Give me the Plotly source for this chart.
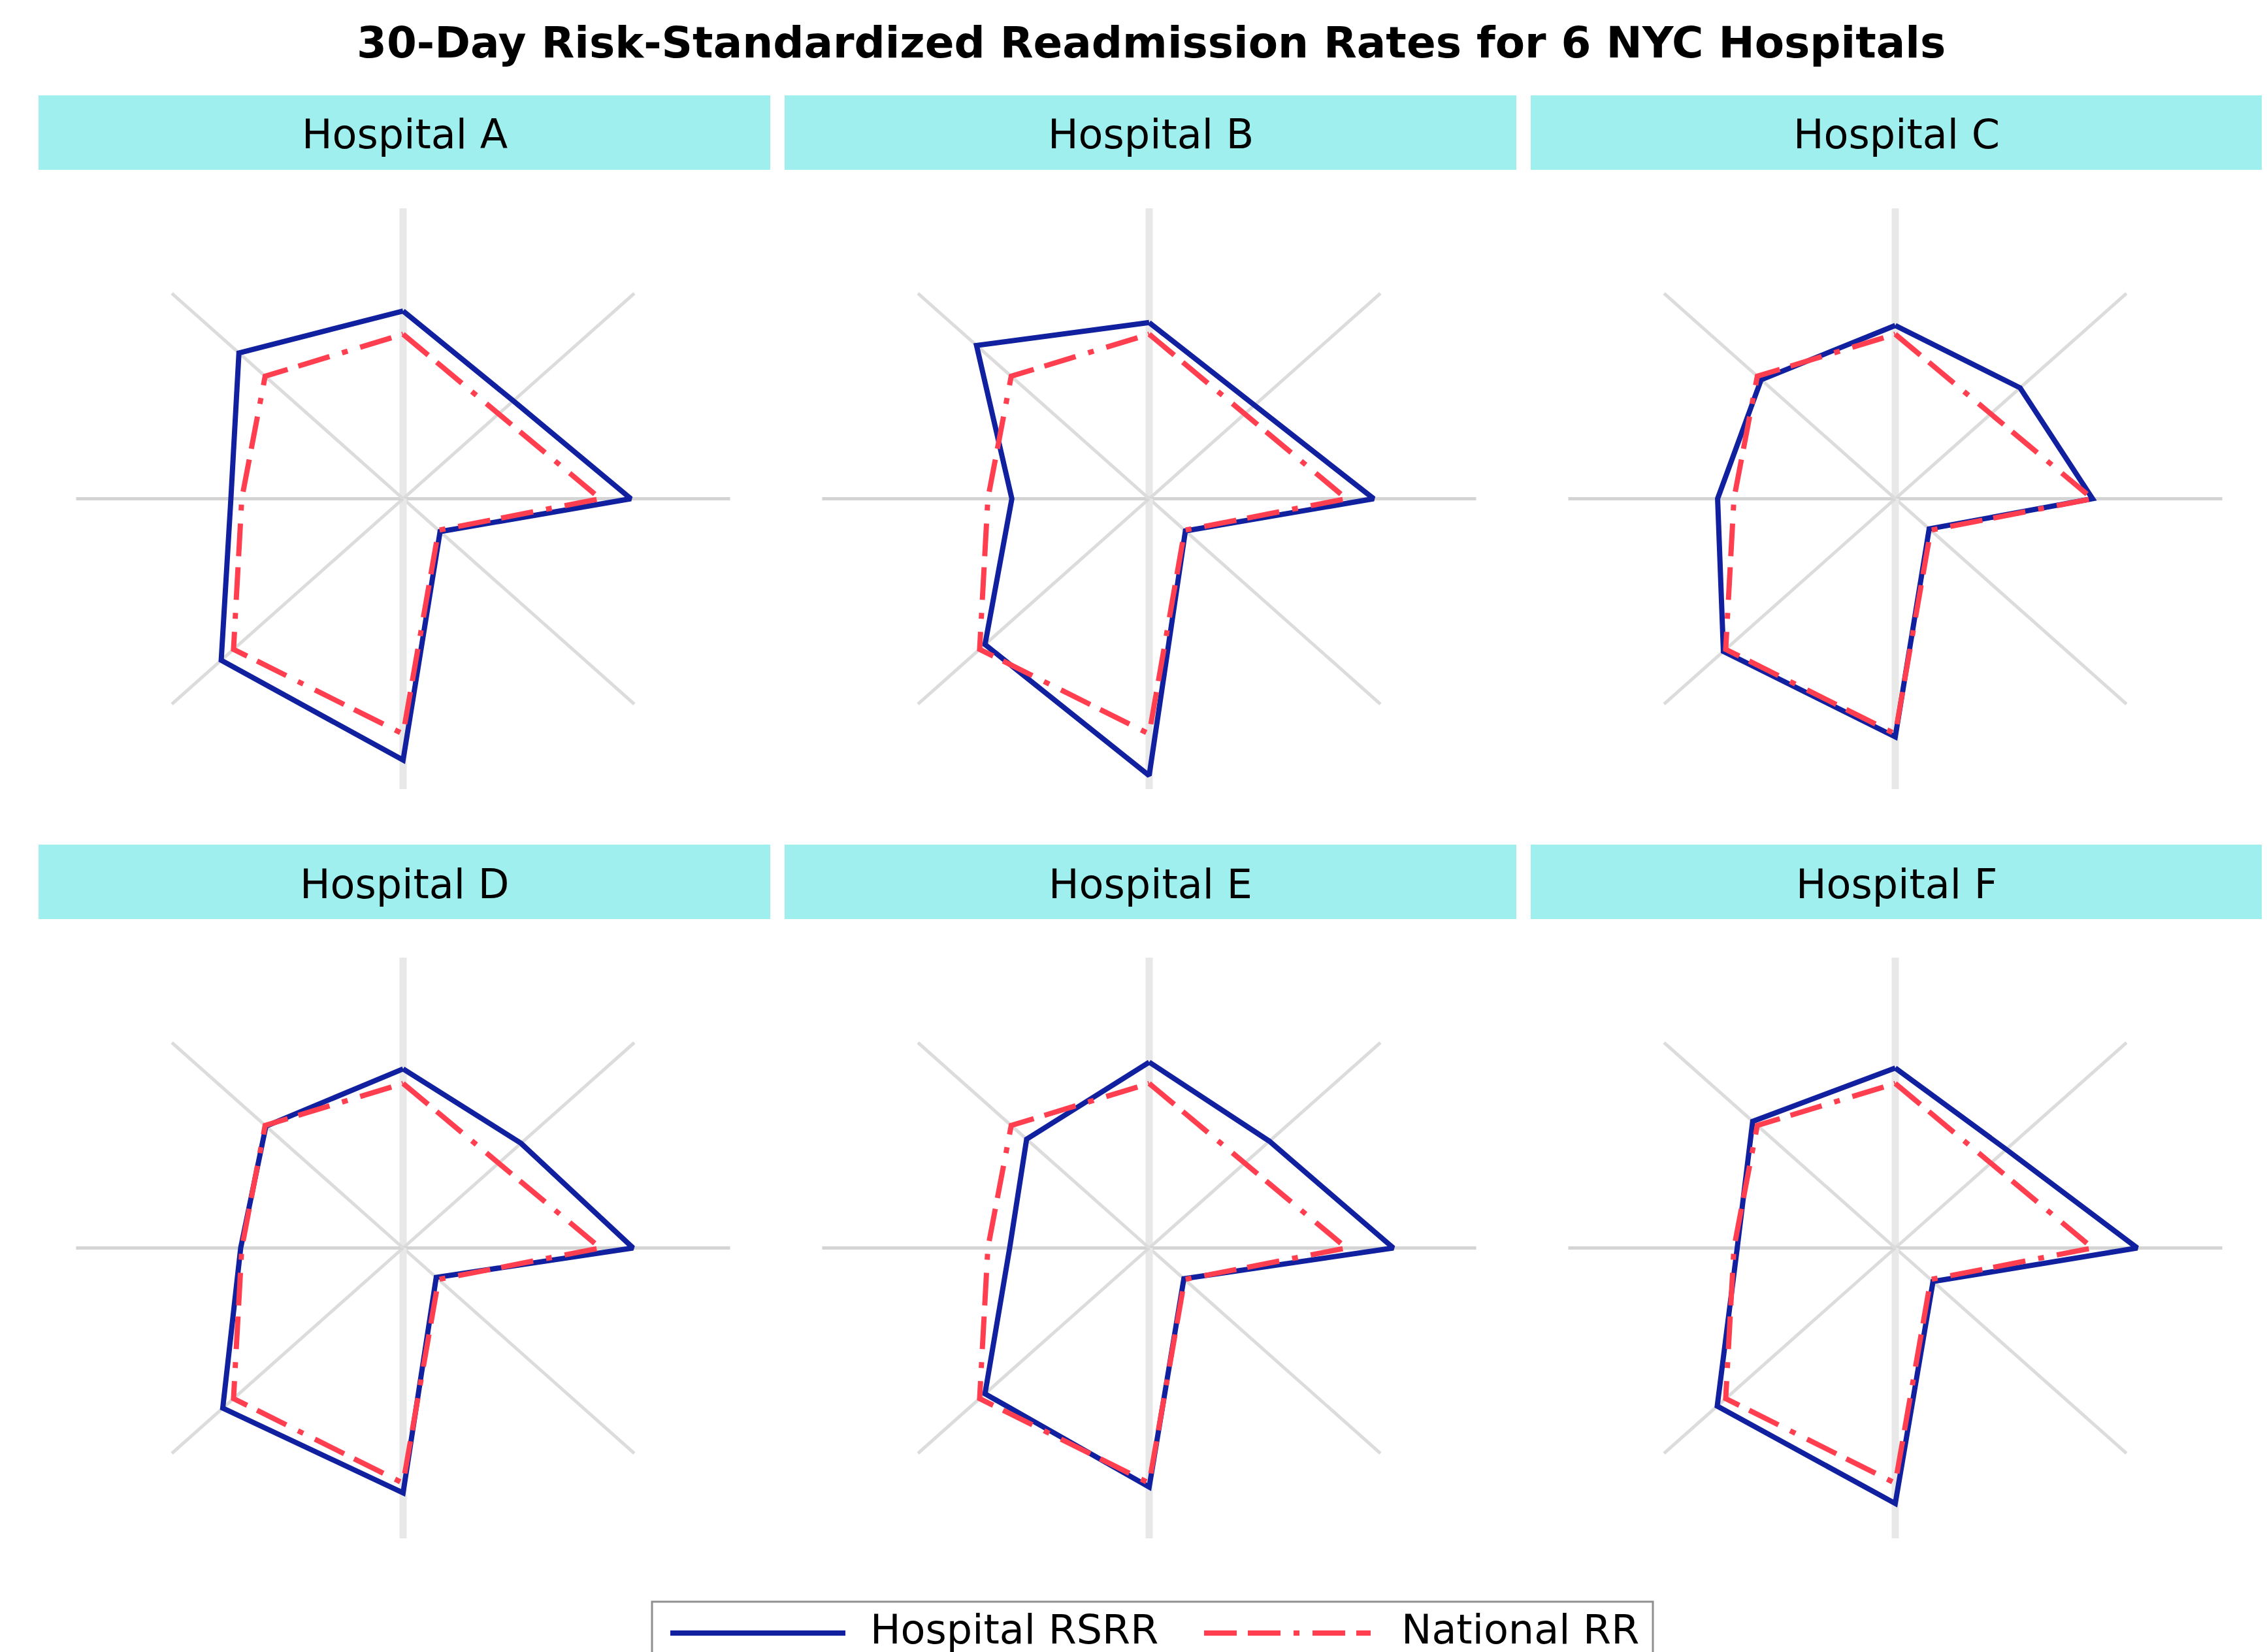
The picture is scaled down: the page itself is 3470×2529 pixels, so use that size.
import math
import plotly.graph_objects as go

# ---------------- data ----------------
spokes = ["N", "NE", "E", "SE", "S", "SW", "W", "NW"]
spoke_angles = [90, 45, 0, -45, -90, -135, 180, 135]
axis_max = 30

hospitals = ["Hospital A", "Hospital B", "Hospital C",
             "Hospital D", "Hospital E", "Hospital F"]

rsrr_a = [19.4, 14.3, 20.9, 4.8, 27.0, 23.6, 15.8, 21.3]
rsrr_b = [18.2, 13.7, 20.6, 4.7, 28.6, 21.3, 12.6, 22.4]
rsrr_c = [17.9, 16.2, 18.1, 4.4, 24.6, 22.3, 16.3, 17.4]
rsrr_d = [18.5, 15.3, 21.1, 4.3, 25.3, 23.4, 14.9, 17.8]
rsrr_e = [19.2, 15.6, 22.4, 4.5, 24.7, 21.3, 12.8, 15.9]
rsrr_f = [18.6, 14.4, 22.2, 4.9, 26.4, 23.1, 14.5, 18.5]
national_rr = [17.0, 12.4, 18.1, 4.6, 24.3, 22.0, 14.8, 17.9]

series_names = ["Hospital RSRR", "National RR"]
title_text = "30-Day Risk-Standardized Readmission Rates for 6 NYC Hospitals"

hospital_values = [rsrr_a, rsrr_b, rsrr_c, rsrr_d, rsrr_e, rsrr_f]

# ---------------- layout geometry (screen pixels) ----------------
W, H = 3470, 2529
OFF = 8            # page body margin of the browser
strip_left = [59, 1201, 2343]
strip_w = 1120
strip_top = [146, 1293]
strip_h = 114
center_dx = 558
center_dy = 617.5
half_x = 500.5   # px for axis_max horizontally
half_y = 444.5   # px for axis_max vertically
pad = 32 / 30.0

BLUE = "#10209F"
RED = "#FF3F4F"
STRIP = "#9FEFEE"
RED_DASH = "50px,17px,50px,20px,9px,20px"


def fx(px):
    return (px - OFF) / W


def fy(py):
    return 1 - (py - OFF) / H


fig = go.Figure()
shapes = []
annotations = []

for i, (name, vals) in enumerate(zip(hospitals, hospital_values)):
    r, c = divmod(i, 3)
    cx = strip_left[c] + center_dx
    cy = strip_top[r] + center_dy
    ax = "" if i == 0 else str(i + 1)
    xa = "x" + ax
    ya = "y" + ax
    fig.update_layout(**{
        "xaxis" + ax: dict(domain=[fx(cx - half_x * pad), fx(cx + half_x * pad)],
                           range=[-axis_max * pad, axis_max * pad], visible=False,
                           fixedrange=True, anchor=ya),
        "yaxis" + ax: dict(domain=[fy(cy + half_y * pad), fy(cy - half_y * pad)],
                           range=[-axis_max * pad, axis_max * pad], visible=False,
                           fixedrange=True, anchor=xa),
    })

    # spokes
    for ang in spoke_angles:
        t = math.radians(ang)
        if ang in (90, -90):
            col, wid = "#e8e8e8", 11
        elif ang in (0, 180):
            col, wid = "#d4d4d4", 5
        else:
            col, wid = "#dcdcdc", 5
        fig.add_trace(go.Scatter(
            x=[0, axis_max * math.cos(t)], y=[0, axis_max * math.sin(t)],
            mode="lines", line=dict(color=col, width=wid),
            xaxis=xa, yaxis=ya, showlegend=False, hoverinfo="skip"))

    nx = [v * math.cos(math.radians(a)) for v, a in zip(national_rr, spoke_angles)]
    ny = [v * math.sin(math.radians(a)) for v, a in zip(national_rr, spoke_angles)]
    hx = [v * math.cos(math.radians(a)) for v, a in zip(vals, spoke_angles)]
    hy = [v * math.sin(math.radians(a)) for v, a in zip(vals, spoke_angles)]

    fig.add_trace(go.Scatter(
        x=hx + hx[:1], y=hy + hy[:1], mode="lines",
        line=dict(color=BLUE, width=8), name=series_names[0],
        text=spokes + spokes[:1], xaxis=xa, yaxis=ya, showlegend=False))
    fig.add_trace(go.Scatter(
        x=nx + nx[:1], y=ny + ny[:1], mode="lines",
        line=dict(color=RED, width=8, dash=RED_DASH), name=series_names[1],
        text=spokes + spokes[:1], xaxis=xa, yaxis=ya, showlegend=False))

    # strip header
    x0 = strip_left[c]
    y0 = strip_top[r]
    shapes.append(dict(type="rect", xref="paper", yref="paper",
                       x0=fx(x0), x1=fx(x0 + strip_w), y0=fy(y0 + strip_h), y1=fy(y0),
                       fillcolor=STRIP, line=dict(width=0), layer="below"))
    annotations.append(dict(text=name, xref="paper", yref="paper",
                            x=fx(x0 + strip_w / 2), y=fy(y0 + strip_h / 2 + 3),
                            xanchor="center", yanchor="middle", showarrow=False,
                            font=dict(family="DejaVu Sans", size=62, color="#000000")))

# title
annotations.append(dict(text=title_text, xref="paper", yref="paper",
                        x=fx(1762), y=fy(66), xanchor="center", yanchor="middle",
                        showarrow=False,
                        font=dict(family="DejaVu Sans", size=66, color="#000000",
                                  weight="bold")))

# legend (drawn)
leg_y = 2500
txt_y = 2494
shapes.append(dict(type="rect", xref="paper", yref="paper",
                   x0=fx(998), x1=fx(2530), y0=fy(2580), y1=fy(2452),
                   line=dict(color="#909090", width=3), fillcolor="rgba(0,0,0,0)"))
shapes.append(dict(type="line", xref="paper", yref="paper",
                   x0=fx(1026), x1=fx(1294), y0=fy(leg_y), y1=fy(leg_y),
                   line=dict(color=BLUE, width=8)))
shapes.append(dict(type="line", xref="paper", yref="paper",
                   x0=fx(1843), x1=fx(2098), y0=fy(leg_y), y1=fy(leg_y),
                   line=dict(color=RED, width=8, dash=RED_DASH)))
annotations.append(dict(text=series_names[0], xref="paper", yref="paper",
                        x=fx(1330), y=fy(txt_y), xanchor="left", yanchor="middle",
                        showarrow=False,
                        font=dict(family="DejaVu Sans", size=62, color="#000000")))
annotations.append(dict(text=series_names[1], xref="paper", yref="paper",
                        x=fx(2143), y=fy(txt_y), xanchor="left", yanchor="middle",
                        showarrow=False,
                        font=dict(family="DejaVu Sans", size=62, color="#000000")))

fig.update_layout(width=W, height=H, margin=dict(l=0, r=0, t=0, b=0),
                  paper_bgcolor="white", plot_bgcolor="white",
                  shapes=shapes, annotations=annotations, showlegend=False)

fig.write_html("out.html")
